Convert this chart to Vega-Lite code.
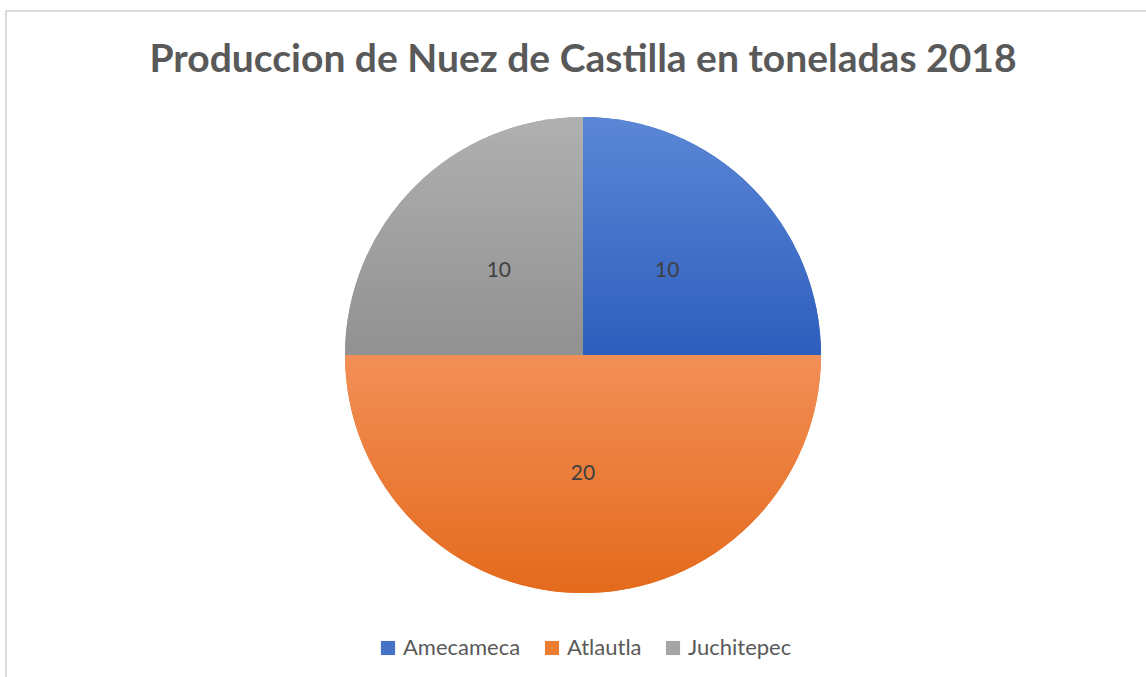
{
  "$schema": "https://vega.github.io/schema/vega-lite/v6.json",
  "autosize": {"type": "none"},
  "padding": {"left": 6, "top": 11, "right": 0, "bottom": 0},
  "width": 1154,
  "height": 688,
  "background": "white",
  "config": {
    "view": {"stroke": "#d9d9d9", "strokeWidth": 2},
    "font": "Lato"
  },
  "title": {
    "text": "Produccion de Nuez de Castilla en toneladas 2018",
    "anchor": "middle",
    "frame": "group",
    "offset": -70,
    "font": "Lato",
    "fontSize": 39,
    "fontWeight": "bold",
    "color": "#595959"
  },
  "data": {
    "values": [
      {"municipio": "Amecameca", "toneladas": 10},
      {"municipio": "Atlautla", "toneladas": 20},
      {"municipio": "Juchitepec", "toneladas": 10}
    ]
  },
  "layer": [
    {
      "mark": {"type": "rect", "fill": null, "stroke": "#d9d9d9", "strokeWidth": 2},
      "encoding": {}
    },
    {
      "mark": {"type": "arc", "radius": 238, "strokeWidth": 0},
      "encoding": {
        "theta": {"field": "toneladas", "type": "quantitative", "stack": true},
        "order": {"field": "municipio", "sort": "ascending"},
        "color": {
          "field": "municipio",
          "type": "nominal",
          "sort": ["Amecameca", "Atlautla", "Juchitepec"],
          "scale": {"domain": ["Amecameca", "Atlautla", "Juchitepec"], "range": ["#4472C4", "#ED7D31", "#A5A5A5"]},
          "legend": {
            "title": null,
            "orient": "none",
            "direction": "horizontal",
            "legendX": 371,
            "legendY": 626,
            "symbolType": "square",
            "symbolSize": 200,
            "symbolStrokeWidth": 0,
            "symbolOpacity": 1,
            "labelFont": "Lato",
            "labelFontSize": 22,
            "labelColor": "#595959",
            "labelOffset": 4,
            "columnPadding": 20
          }
        }
      }
    },
    {
      "mark": {"type": "arc", "radius": 238, "strokeWidth": 0},
      "encoding": {
        "theta": {"field": "toneladas", "type": "quantitative", "stack": true},
        "order": {"field": "municipio", "sort": "ascending"},
        "fill": {
          "condition": [
            {"test": "datum.municipio === 'Amecameca'", "value": {"gradient": "linear", "x1": 0, "y1": 0, "x2": 0, "y2": 1, "stops": [{"offset": 0, "color": "#5B87D6"}, {"offset": 1, "color": "#2E5EBD"}]}},
            {"test": "datum.municipio === 'Atlautla'", "value": {"gradient": "linear", "x1": 0, "y1": 0, "x2": 0, "y2": 1, "stops": [{"offset": 0, "color": "#F28F57"}, {"offset": 1, "color": "#E46A1C"}]}}
          ],
          "value": {"gradient": "linear", "x1": 0, "y1": 0, "x2": 0, "y2": 1, "stops": [{"offset": 0, "color": "#B0B0B0"}, {"offset": 1, "color": "#919191"}]}
        }
      }
    },
    {
      "mark": {"type": "text", "radius": 119, "font": "Lato", "fontSize": 21, "color": "#404040"},
      "encoding": {
        "theta": {"field": "toneladas", "type": "quantitative", "stack": true},
        "order": {"field": "municipio", "sort": "ascending"},
        "text": {"field": "toneladas", "type": "quantitative"}
      }
    }
  ]
}
